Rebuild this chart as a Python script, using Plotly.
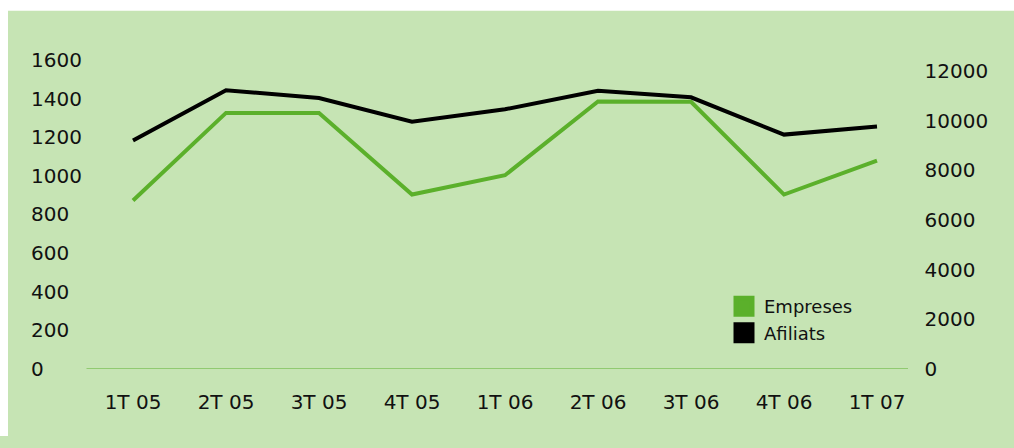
import plotly.graph_objects as go

categories = ["1T 05", "2T 05", "3T 05", "4T 05", "1T 06", "2T 06", "3T 06", "4T 06", "1T 07"]
empreses = [872, 1326, 1326, 903, 1003, 1385, 1384, 903, 1079]
afiliats = [9204, 11227, 10914, 9961, 10459, 11204, 10941, 9439, 9765]
left_ticks = [0, 200, 400, 600, 800, 1000, 1200, 1400, 1600]
right_ticks = [0, 2000, 4000, 6000, 8000, 10000, 12000]

W, H = 1014, 448
GREEN = "#5bb02b"
BG = "#c6e4b4"
FONT = dict(family="DejaVu Sans", size=20, color="#111111")
LFONT = dict(family="DejaVu Sans", size=18, color="#111111")

fig = go.Figure()
fig.add_trace(go.Scatter(x=categories, y=empreses, mode="lines", name="Empreses",
                         line=dict(color=GREEN, width=4), yaxis="y", showlegend=False))
fig.add_trace(go.Scatter(x=categories, y=afiliats, mode="lines", name="Afiliats",
                         line=dict(color="#000000", width=4), yaxis="y2", showlegend=False))
# legend entries (square swatches)
fig.add_trace(go.Scatter(x=[None], y=[None], mode="markers", name="Empreses",
                         marker=dict(symbol="square", size=16, color=GREEN,
                                     line=dict(color=GREEN, width=5))))
fig.add_trace(go.Scatter(x=[None], y=[None], mode="markers", name="Afiliats",
                         marker=dict(symbol="square", size=16, color="#000000",
                                     line=dict(color="#000000", width=5))))

x0, x1 = 86.5 / W, 923.5 / W
yb, yt = (H - 379) / H, (H - 22) / H

fig.update_layout(
    width=W, height=H,
    margin=dict(l=0, r=0, t=0, b=0),
    paper_bgcolor=BG, plot_bgcolor=BG,
    font=FONT,
    xaxis=dict(domain=[x0, x1], showgrid=False, zeroline=False, showline=False,
               ticks="outside", ticklen=15, tickcolor="rgba(0,0,0,0)",
               tickfont=FONT, range=[-0.5, 8.5]),
    yaxis=dict(domain=[yb, yt], range=[0, 1800], tickvals=left_ticks,
               showgrid=False, zeroline=False, showline=False,
               anchor="free", position=30 / W, side="right", tickfont=FONT),
    yaxis2=dict(range=[0, 14000], tickvals=right_ticks, tickformat="d", overlaying="y",
                side="right", anchor="x", showgrid=False, zeroline=False, showline=False,
                tickfont=FONT),
    legend=dict(x=724 / W, y=1 - 296 / H, xanchor="left", yanchor="top",
                bgcolor="rgba(0,0,0,0)", font=LFONT, tracegroupgap=0),
    shapes=[
        dict(type="line", xref="paper", yref="y", x0=x0, x1=908 / W, y0=0, y1=0,
             line=dict(color=GREEN, width=1), layer="below"),
        dict(type="rect", xref="paper", yref="paper", x0=0, x1=8 / W, y0=0, y1=1,
             fillcolor="white", line=dict(width=0), layer="below"),
        dict(type="rect", xref="paper", yref="paper", x0=0, x1=1, y0=1 - 11 / H, y1=1,
             fillcolor="white", line=dict(width=0), layer="below"),
    ],
)

fig.write_html(
    "out.html",
    config={"displayModeBar": False},
    post_script=(
        "document.documentElement.style.overflow='hidden';"
        "document.body.style.margin='0';document.body.style.overflow='hidden';"
        "var d=document.getElementById('{plot_id}');"
        "d.style.position='fixed';d.style.left='0px';d.style.top='0px';"
    ),
)
